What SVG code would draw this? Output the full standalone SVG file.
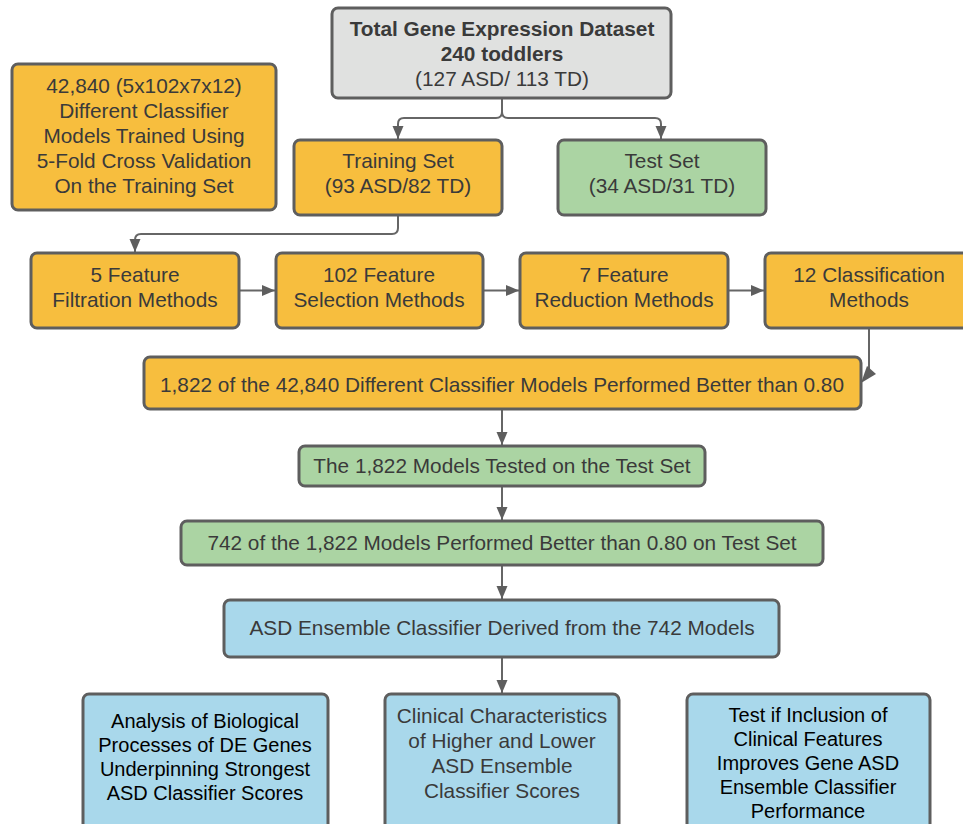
<svg xmlns="http://www.w3.org/2000/svg" width="963" height="824" viewBox="0 0 963 824">
<defs>
<style>
.box{stroke:#5e5e5e;stroke-width:3}
.o{fill:#f7be3e}.g{fill:#abd4a3}.b{fill:#a9d8eb}.gr{fill:#e0e1e0}
text{font-family:"Liberation Sans",Arial,sans-serif;font-size:20.8px;fill:#3a3a3a;text-anchor:middle}
.bold{font-weight:bold}
.sm{font-size:20px;fill:#000}
.c{fill:none;stroke:#666;stroke-width:2}
</style>
<marker id="ah" markerUnits="userSpaceOnUse" markerWidth="14" markerHeight="14" viewBox="0 0 14 14" refX="13" refY="7" orient="auto">
<path d="M0,1.5 L13,7 L0,12.5 Z" fill="#5e5e5e"/>
</marker>
</defs>
<rect width="963" height="824" fill="#fff"/>
<g id="connectors">
<path class="c" d="M502,98 V112 q0,6 -6,6 H404 q-6,0 -6,6 V139" marker-end="url(#ah)"/>
<path class="c" d="M502,98 V112 q0,6 6,6 H655 q6,0 6,6 V139" marker-end="url(#ah)"/>
<path class="c" d="M398,215 V228 q0,6 -6,6 H141 q-6,0 -6,6 V252" marker-end="url(#ah)"/>
<path class="c" d="M239,290.5 H275" marker-end="url(#ah)"/>
<path class="c" d="M483,290.5 H519" marker-end="url(#ah)"/>
<path class="c" d="M728,290.5 H764" marker-end="url(#ah)"/>
<path class="c" d="M869,328 V371"/>
<polygon points="861,383 876,374 867,366" fill="#5e5e5e"/>
<path class="c" d="M502,409 V445" marker-end="url(#ah)"/>
<path class="c" d="M502,486 V520" marker-end="url(#ah)"/>
<path class="c" d="M502,565 V599" marker-end="url(#ah)"/>
<path class="c" d="M502,657 V693" marker-end="url(#ah)"/>
</g>
<g id="total">
<rect class="box gr" x="332" y="8" width="339" height="90" rx="6"/>
<text class="bold" x="502" y="36">Total Gene Expression Dataset</text>
<text class="bold" x="502" y="61">240 toddlers</text>
<text x="502" y="86">(127 ASD/ 113 TD)</text>
</g>
<g id="models">
<rect class="box o" x="12" y="64" width="264" height="146" rx="6"/>
<text x="144" y="93">42,840 (5x102x7x12)</text>
<text x="144" y="118">Different Classifier</text>
<text x="144" y="143">Models Trained Using</text>
<text x="144" y="168">5-Fold Cross Validation</text>
<text x="144" y="193">On the Training Set</text>
</g>
<g id="training">
<rect class="box o" x="294" y="140" width="208" height="75" rx="6"/>
<text x="398" y="168">Training Set</text>
<text x="398" y="193">(93 ASD/82 TD)</text>
</g>
<g id="test">
<rect class="box g" x="558" y="140" width="208" height="75" rx="6"/>
<text x="662" y="168">Test Set</text>
<text x="662" y="193">(34 ASD/31 TD)</text>
</g>
<g id="filtration">
<rect class="box o" x="31" y="253" width="208" height="75" rx="6"/>
<text x="135" y="282">5 Feature</text>
<text x="135" y="307">Filtration Methods</text>
</g>
<g id="selection">
<rect class="box o" x="276" y="253" width="207" height="75" rx="6"/>
<text x="379" y="282">102 Feature</text>
<text x="379" y="307">Selection Methods</text>
</g>
<g id="reduction">
<rect class="box o" x="520" y="253" width="208" height="75" rx="6"/>
<text x="624" y="282">7 Feature</text>
<text x="624" y="307">Reduction Methods</text>
</g>
<g id="classification">
<rect class="box o" x="765" y="253" width="208" height="75" rx="6"/>
<text x="869" y="282">12 Classification</text>
<text x="869" y="307">Methods</text>
</g>
<g id="better">
<rect class="box o" x="144" y="357" width="717" height="52" rx="6"/>
<text x="502" y="392">1,822 of the 42,840 Different Classifier Models Performed Better than 0.80</text>
</g>
<g id="tested">
<rect class="box g" x="299" y="446" width="406" height="40" rx="6"/>
<text x="502" y="473">The 1,822 Models Tested on the Test Set</text>
</g>
<g id="passed">
<rect class="box g" x="181" y="521" width="642" height="44" rx="6"/>
<text x="502" y="550">742 of the 1,822 Models Performed Better than 0.80 on Test Set</text>
</g>
<g id="ensemble">
<rect class="box b" x="224" y="600" width="555" height="57" rx="6"/>
<text x="502" y="635">ASD Ensemble Classifier Derived from the 742 Models</text>
</g>
<g id="biological">
<rect class="box b" x="83" y="694" width="245" height="140" rx="6"/>
<text class="sm" x="205" y="728">Analysis of Biological</text>
<text class="sm" x="205" y="752">Processes of DE Genes</text>
<text class="sm" x="205" y="776">Underpinning Strongest</text>
<text class="sm" x="205" y="800">ASD Classifier Scores</text>
</g>
<g id="clinical">
<rect class="box b" x="385" y="694" width="234" height="140" rx="6"/>
<text x="502" y="723">Clinical Characteristics</text>
<text x="502" y="748">of Higher and Lower</text>
<text x="502" y="773">ASD Ensemble</text>
<text x="502" y="798">Classifier Scores</text>
</g>
<g id="inclusion">
<rect class="box b" x="687" y="694" width="243" height="140" rx="6"/>
<text class="sm" x="808" y="722">Test if Inclusion of</text>
<text class="sm" x="808" y="746">Clinical Features</text>
<text class="sm" x="808" y="770">Improves Gene ASD</text>
<text class="sm" x="808" y="794">Ensemble Classifier</text>
<text class="sm" x="808" y="818">Performance</text>
</g>
</svg>
